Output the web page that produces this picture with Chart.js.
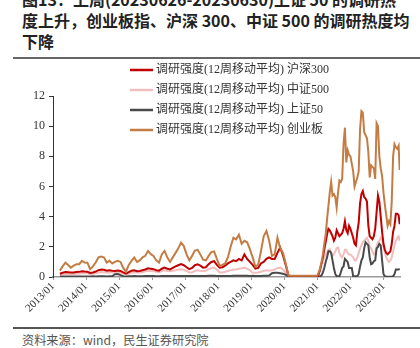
<!DOCTYPE html>
<html>
<head>
<meta charset="utf-8">
<script src="https://cdn.jsdelivr.net/npm/chart.js@4/dist/chart.umd.min.js"></script>
<style>
  html, body { margin: 0; padding: 0; background: #fff; }
  body { width: 420px; height: 348px; position: relative; overflow: hidden; }
  #title {
    position: absolute; left: 22px; top: -11px;
    font-family: "Noto Sans CJK SC", sans-serif; font-weight: bold;
    font-size: 16px; line-height: 21px; color: #222; white-space: nowrap;
  }
  #rule-top { position: absolute; left: 13px; right: 0; top: 57px; height: 2px; background: #666; }
  #rule-bottom { position: absolute; left: 13px; right: 0; top: 327px; height: 1.5px; background: #555; }
  #source {
    position: absolute; left: 22px; top: 331px;
    font-family: "Noto Sans CJK SC", sans-serif; font-size: 12.2px; color: #555; white-space: nowrap;
  }
  #wrap { position: absolute; left: 0; top: 60px; width: 420px; height: 266px; }
</style>
</head>
<body>
<div id="title">图13：上周(20230626-20230630)上证 50 的调研热<br>度上升，创业板指、沪深 300、中证 500 的调研热度均<br>下降</div>
<div id="rule-top"></div>
<div id="wrap"><canvas id="trend-chart" width="420" height="266"></canvas></div>
<div id="rule-bottom"></div>
<div id="source">资料来源：wind，民生证券研究院</div>
<script>
// monthly readings 2013/03 - 2020/12, then twice a month 2021/01 - 2023/06 (plus 06/30)
var hs300 = [
  0.22, 0.28, 0.33, 0.32, 0.3, 0.3, 0.33, 0.34, 0.38, 0.36,
  0.35, 0.27, 0.3, 0.36, 0.45, 0.5, 0.48, 0.42, 0.45, 0.42, 0.4, 0.43,
  0.4, 0.3, 0.22, 0.32, 0.42, 0.45, 0.38, 0.4, 0.45, 0.5, 0.58, 0.55,
  0.52, 0.45, 0.42, 0.55, 0.62, 0.55, 0.5, 0.6, 0.7, 0.78, 0.85, 0.78,
  0.65, 0.52, 0.6, 0.78, 0.84, 0.75, 0.62, 0.65, 0.85, 1.0, 1.05, 0.8,
  0.62, 0.65, 0.75, 0.9, 1.0, 1.1, 1.05, 1.2, 1.1, 1.5, 1.2, 1.0,
  0.8, 0.55, 0.6, 0.9, 1.0, 1.2, 1.3, 1.2, 1.2, 1.6, 1.95, 1.45,
  0.8, 0.1, 0.05, 0.05, 0.05, 0.05, 0.05, 0.05, 0.05, 0.05, 0.05, 0.05,
  0.05, 0.2, 0.5, 0.9, 1.3, 1.8, 2.3, 2.8, 3.2, 3.1, 2.9, 2.7,
  2.4, 2.6, 3.1, 2.9, 2.7, 2.8, 2.9, 3.2, 3.7, 3.1, 2.9, 3.4,
  3.2, 2.9, 2.6, 2.2, 2.1, 3.0, 3.6, 4.9, 5.5, 5.7, 5.3, 5.2,
  5.0, 3.4, 2.7, 2.6, 2.5, 2.7, 3.2, 4.3, 5.4, 5.0, 4.0, 3.0,
  2.2, 1.8, 1.6, 1.5, 1.6, 1.7, 2.2, 3.0, 3.4, 4.2, 4.2, 4.1, 3.5
];
var zz500 = [
  0.15, 0.18, 0.2, 0.2, 0.2, 0.2, 0.22, 0.22, 0.25, 0.25,
  0.25, 0.2, 0.22, 0.25, 0.3, 0.33, 0.32, 0.3, 0.3, 0.3, 0.28, 0.3,
  0.28, 0.22, 0.18, 0.22, 0.3, 0.32, 0.3, 0.3, 0.32, 0.38, 0.42, 0.4,
  0.38, 0.35, 0.32, 0.4, 0.45, 0.4, 0.38, 0.42, 0.45, 0.5, 0.52, 0.48,
  0.4, 0.3, 0.32, 0.4, 0.45, 0.42, 0.4, 0.42, 0.5, 0.58, 0.62, 0.5,
  0.3, 0.3, 0.35, 0.4, 0.45, 0.5, 0.5, 0.55, 0.58, 0.62, 0.55, 0.45,
  0.3, 0.28, 0.3, 0.35, 0.4, 0.45, 0.42, 0.45, 0.5, 0.6, 0.62, 0.5,
  0.3, 0.06, 0.04, 0.04, 0.04, 0.04, 0.04, 0.04, 0.04, 0.04, 0.04, 0.04,
  0.04, 0.2, 0.5, 0.85, 1.1, 1.3, 1.5, 1.6, 1.8, 1.85, 1.6, 1.4,
  1.5, 1.7, 1.9, 1.95, 1.6, 1.4, 1.3, 1.5, 1.8, 1.8, 1.6, 1.5,
  1.5, 1.4, 1.3, 1.1, 1.1, 1.3, 1.6, 1.9, 2.1, 2.3, 2.4, 2.5,
  2.6, 2.4, 2.0, 1.9, 1.7, 1.5, 1.6, 2.0, 2.3, 2.4, 2.6, 2.5,
  2.0, 1.6, 1.3, 1.1, 1.0, 1.1, 1.3, 1.7, 2.1, 2.4, 2.6, 2.7, 2.4
];
var sz50 = [
  0.03, 0.03, 0.03, 0.04, 0.03, 0.03, 0.04, 0.04, 0.04, 0.04,
  0.04, 0.04, 0.05, 0.04, 0.05, 0.05, 0.05, 0.04, 0.05, 0.05, 0.18, 0.2,
  0.12, 0.05, 0.04, 0.05, 0.05, 0.06, 0.05, 0.05, 0.05, 0.06, 0.06, 0.06,
  0.06, 0.05, 0.05, 0.06, 0.06, 0.06, 0.06, 0.06, 0.07, 0.07, 0.07, 0.07,
  0.06, 0.06, 0.06, 0.07, 0.07, 0.07, 0.07, 0.07, 0.08, 0.08, 0.08, 0.07,
  0.06, 0.06, 0.06, 0.07, 0.07, 0.08, 0.08, 0.08, 0.08, 0.09, 0.08, 0.07,
  0.08, 0.06, 0.06, 0.07, 0.08, 0.08, 0.1, 0.25, 0.28, 0.28, 0.25, 0.22,
  0.15, 0.04, 0.02, 0.02, 0.02, 0.02, 0.02, 0.02, 0.02, 0.02, 0.02, 0.02,
  0.02, 0.02, 0.05, 0.1, 0.3, 0.6, 1.0, 1.3, 1.7, 1.7, 1.6, 1.1,
  0.6, 0.2, 0.05, 0.05, 0.05, 0.3, 0.6, 0.7, 1.2, 1.1, 1.0, 0.6,
  0.6, 0.6, 0.05, 0.05, 0.05, 0.05, 0.2, 0.7, 1.1, 1.3, 1.9, 2.3,
  2.2, 2.1, 1.3, 0.85, 0.9, 1.05, 1.1, 1.9, 2.0, 2.2, 2.1, 1.1,
  0.2, 0.05, 0.02, 0.02, 0.02, 0.02, 0.02, 0.05, 0.2, 0.5, 0.5, 0.5, 0.55
];
var cyb = [
  0.42, 0.7, 0.95, 0.8, 0.62, 0.75, 0.84, 0.85, 1.07, 0.96,
  0.95, 0.51, 0.7, 0.96, 1.3, 1.35, 1.3, 0.96, 1.07, 0.9, 1.0, 1.07,
  1.0, 0.6, 0.35, 0.8, 1.07, 1.29, 1.0, 1.1, 1.3, 1.4, 1.73, 1.51,
  1.4, 1.1, 0.96, 1.5, 1.73, 1.3, 1.0, 1.3, 1.6, 1.9, 2.28, 2.05,
  1.5, 1.1, 1.4, 1.75, 1.8, 1.5, 1.15, 1.1, 1.4, 1.65, 1.7, 1.2,
  0.75, 0.8, 0.9, 1.3, 2.0, 2.6, 2.5, 2.8, 2.2, 2.4, 2.3, 1.85,
  1.3, 0.7, 0.8, 1.7, 2.7, 3.05, 2.4, 1.4, 1.5, 2.6, 1.9, 1.6,
  0.9, 0.1, 0.08, 0.08, 0.08, 0.08, 0.08, 0.08, 0.08, 0.08, 0.08, 0.08,
  0.1, 0.3, 0.6, 1.0, 1.5, 2.2, 2.8, 3.8, 4.7, 5.6, 6.3, 5.4,
  5.5, 5.3, 4.6, 5.6, 6.4, 6.3, 6.5, 8.8, 9.9, 7.6, 8.4, 8.1,
  8.0, 7.5, 7.0, 6.0, 6.3, 6.6, 7.0, 9.8, 11.0, 10.9, 9.6, 9.4,
  9.2, 8.3, 6.6, 7.4, 7.3, 7.2, 6.5, 10.2, 10.0, 8.0, 7.2, 6.7,
  5.6, 4.8, 4.1, 3.4, 3.7, 3.5, 5.0, 8.0, 8.8, 8.6, 8.5, 8.7, 7.1
];
var yearTicks = [2013, 2014, 2015, 2016, 2017, 2018, 2019, 2020, 2021, 2022, 2023];
var labels = [
  '调研强度(12周移动平均) 沪深300',
  '调研强度(12周移动平均) 中证500',
  '调研强度(12周移动平均) 上证50',
  '调研强度(12周移动平均) 创业板'
];
var colors = ['#C00000', '#F2BDBD', '#4A4A4A', '#C47C45'];

// x positions (decimal years) for the readings above
var dates = [];
for (var y = 2013; y <= 2020; y++) {
  for (var m = (y == 2013 ? 3 : 1); m <= 12; m++) dates.push(y + (m - 0.5) / 12);
}
for (var y = 2021; y <= 2023; y++) {
  for (var m = 1; m <= (y == 2023 ? 6 : 12); m++) {
    dates.push(y + (m - 1) / 12);
    dates.push(y + (m - 0.5) / 12);
  }
}
dates.push(2023.49);

function toPoints(vals) {
  return vals.map(function(v, i) { return { x: dates[i], y: v }; });
}

var serif = '"Liberation Serif", "Times New Roman", serif';

var insideLegend = {
  id: 'insideLegend',
  afterDraw: function(chart) {
    var ctx = chart.ctx;
    ctx.save();
    ctx.font = '12px ' + serif + ', "Noto Sans CJK SC"';
    ctx.textBaseline = 'middle';
    chart.data.datasets.forEach(function(ds, i) {
      var yy = 10 + i * 20;
      ctx.strokeStyle = ds.borderColor;
      ctx.lineWidth = 2.5;
      ctx.beginPath();
      ctx.moveTo(130, yy);
      ctx.lineTo(153, yy);
      ctx.stroke();
      ctx.fillStyle = '#333';
      ctx.fillText(ds.label, 156, yy);
    });
    ctx.restore();
  }
};

var ctx = document.getElementById('trend-chart').getContext('2d');
var trendChart = new Chart(ctx, {
  type: 'line',
  data: {
    datasets: [
      { label: labels[0], data: toPoints(hs300), borderColor: colors[0], order: 1 },
      { label: labels[1], data: toPoints(zz500), borderColor: colors[1], order: 3 },
      { label: labels[2], data: toPoints(sz50), borderColor: colors[2], order: 2 },
      { label: labels[3], data: toPoints(cyb), borderColor: colors[3], order: 0 }
    ]
  },
  options: {
    responsive: false,
    animation: false,
    layout: { padding: { left: 0, right: 20, top: 36, bottom: 0 } },
    elements: {
      point: { radius: 0 },
      line: { borderWidth: 2, tension: 0 }
    },
    plugins: { legend: { display: false }, tooltip: { enabled: false } },
    scales: {
      x: {
        type: 'linear',
        min: 2013,
        max: 2023.5,
        afterBuildTicks: function(axis) {
          axis.ticks = yearTicks.map(function(v) { return { value: v }; });
        },
        afterFit: function(axis) { axis.height = 49; },
        border: { color: '#999', width: 1.5 },
        grid: { display: true, drawOnChartArea: false, tickLength: 3, color: '#999' },
        ticks: {
          minRotation: 45,
          maxRotation: 45,
          autoSkip: false,
          padding: 0,
          color: '#333',
          font: { family: serif, size: 11 },
          callback: function(v) { return v + '/01'; }
        }
      },
      y: {
        min: 0,
        max: 12,
        afterFit: function(axis) { axis.width = 53; },
        border: { color: '#333', width: 1 },
        grid: { display: true, drawOnChartArea: false, tickLength: 4, color: '#333' },
        ticks: {
          stepSize: 2,
          padding: 4,
          color: '#333',
          font: { family: serif, size: 12 }
        }
      }
    }
  },
  plugins: [insideLegend]
});
</script>
</body>
</html>
